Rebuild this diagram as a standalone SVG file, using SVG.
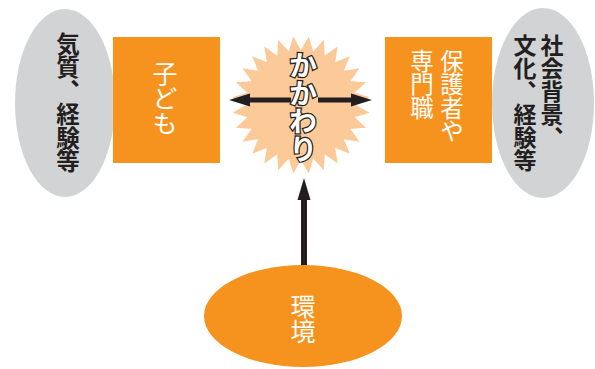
<svg xmlns="http://www.w3.org/2000/svg" width="595" height="369" viewBox="0 0 595 369">
<style>
.bg{fill:#ffffff}
.gray{fill:#d1d3d4}
.orange{fill:#f6921e}
.burst{fill:#fcc998}
.vt{font-family:"Noto Sans CJK JP","Noto Sans",sans-serif;writing-mode:vertical-rl;text-anchor:start}
.dark{fill:#231f20;font-weight:bold}
.white{fill:#ffffff}
.kk{fill:#ffffff;stroke:#231f20;stroke-width:2.5;paint-order:stroke;font-weight:bold}
.line{stroke:#231f20;fill:none}
.head{fill:#231f20}
</style>
<defs>
<polygon id="spike" points="301,36 307.8,52 294.2,52"/>
</defs>
<rect class="bg" x="0" y="0" width="595" height="369"/>

<g id="node-kishitsu">
<ellipse class="gray" cx="65" cy="103" rx="50" ry="94"/>
<text class="vt dark" x="68" y="32" font-size="23.5">気質、経験等</text>
</g>

<g id="node-kodomo">
<rect class="orange" x="113" y="37" width="107" height="126"/>
<text class="vt white" x="165" y="61" font-size="25">子ども</text>
</g>

<g id="node-kakawari">
<g class="burst" transform="rotate(6.43 301 105)">
<circle cx="301" cy="105" r="54"/>
<use href="#spike" transform="rotate(0 301 105)"/>
<use href="#spike" transform="rotate(12.857 301 105)"/>
<use href="#spike" transform="rotate(25.714 301 105)"/>
<use href="#spike" transform="rotate(38.571 301 105)"/>
<use href="#spike" transform="rotate(51.429 301 105)"/>
<use href="#spike" transform="rotate(64.286 301 105)"/>
<use href="#spike" transform="rotate(77.143 301 105)"/>
<use href="#spike" transform="rotate(90 301 105)"/>
<use href="#spike" transform="rotate(102.857 301 105)"/>
<use href="#spike" transform="rotate(115.714 301 105)"/>
<use href="#spike" transform="rotate(128.571 301 105)"/>
<use href="#spike" transform="rotate(141.429 301 105)"/>
<use href="#spike" transform="rotate(154.286 301 105)"/>
<use href="#spike" transform="rotate(167.143 301 105)"/>
<use href="#spike" transform="rotate(180 301 105)"/>
<use href="#spike" transform="rotate(192.857 301 105)"/>
<use href="#spike" transform="rotate(205.714 301 105)"/>
<use href="#spike" transform="rotate(218.571 301 105)"/>
<use href="#spike" transform="rotate(231.429 301 105)"/>
<use href="#spike" transform="rotate(244.286 301 105)"/>
<use href="#spike" transform="rotate(257.143 301 105)"/>
<use href="#spike" transform="rotate(270 301 105)"/>
<use href="#spike" transform="rotate(282.857 301 105)"/>
<use href="#spike" transform="rotate(295.714 301 105)"/>
<use href="#spike" transform="rotate(308.571 301 105)"/>
<use href="#spike" transform="rotate(321.429 301 105)"/>
<use href="#spike" transform="rotate(334.286 301 105)"/>
<use href="#spike" transform="rotate(347.143 301 105)"/>
</g>
</g>

<g id="node-hogosha">
<rect class="orange" x="385" y="37" width="107" height="126"/>
<text class="vt white" x="452" y="49" font-size="23.5">保護者や</text>
<text class="vt white" x="422" y="49" font-size="23.5">専門職</text>
</g>

<g id="node-shakai">
<ellipse class="gray" cx="543" cy="103" rx="51" ry="95"/>
<text class="vt dark" x="552" y="34" font-size="23">社会背景、</text>
<text class="vt dark" x="525" y="34" font-size="23">文化、経験等</text>
</g>

<g id="node-kankyo">
<ellipse class="orange" cx="303" cy="316" rx="99" ry="51"/>
<text class="vt white" x="303" y="294" font-size="25">環境</text>
</g>

<g id="connectors">
<line class="line" x1="291" y1="100" x2="246" y2="100" stroke-width="5"/>
<polygon class="head" points="229,100 250,93.5 250,106.5"/>
<line class="line" x1="318" y1="100" x2="355" y2="100" stroke-width="5"/>
<polygon class="head" points="372,100 351,93.5 351,106.5"/>
<line class="line" x1="304" y1="265" x2="304" y2="197" stroke-width="6"/>
<polygon class="head" points="304,178 297.5,200 310.5,200"/>
</g>

<text class="vt kk" x="303" y="51" font-size="28">かかわり</text>
</svg>
